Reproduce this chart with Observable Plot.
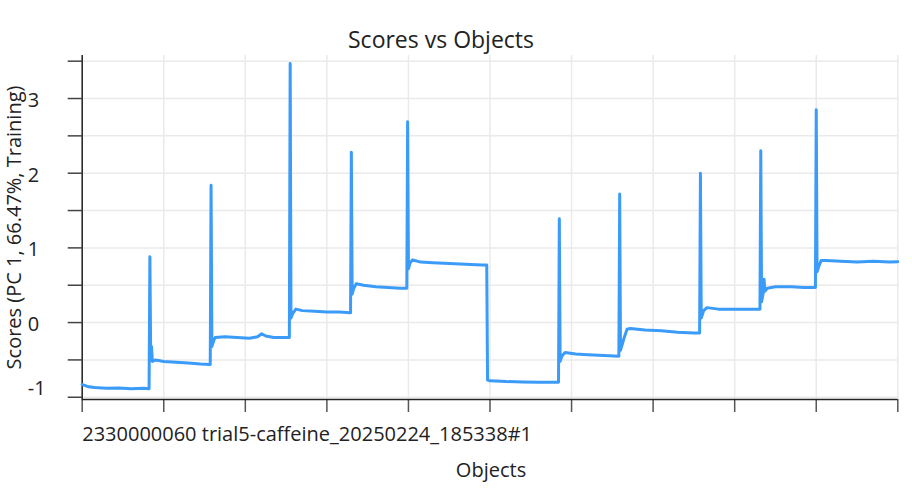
<!DOCTYPE html>
<html>
<head>
<meta charset="utf-8">
<script src="https://cdn.jsdelivr.net/npm/d3@7"></script>
<script src="https://cdn.jsdelivr.net/npm/@observablehq/plot@0.6"></script>
<style>
  html, body { margin: 0; padding: 0; background: #fff; }
</style>
</head>
<body>
<div id="chart"></div>
<script>
const titleText = "Scores vs Objects";
const xLabelText = "Objects";
const yLabelText = "Scores (PC 1, 66.47%, Training)";
const objectName = "2330000060 trial5-caffeine_20250224_185338#1";

const xTicks = [0, 100, 200, 300, 400, 500, 600, 700, 800, 900, 1000];
const yTicks = [-1, -0.5, 0, 0.5, 1, 1.5, 2, 2.5, 3, 3.5];
const yTickLabels = [0, 1, 2, 3];
const yTickLabelsLow = [-1];

const objectIndex = [
  0, 3, 8, 15, 30, 45, 60, 75, 82,
  83,
  84, 85, 86, 90, 100, 115, 130, 145, 157,
  158,
  159, 161, 163, 175, 190, 205, 215, 220, 225, 235, 245, 254,
  255,
  256, 258, 262, 270, 285, 300, 315, 329,
  330,
  331, 333, 336, 345, 360, 375, 390, 398,
  399,
  400, 402, 405, 415, 430, 450, 470, 490, 496,
  497, 500, 520, 540, 560, 584,
  585,
  586, 588, 592, 605, 620, 640, 658,
  659,
  660, 664, 668, 672, 690, 710, 730, 750, 757,
  758,
  759, 762, 766, 780, 800, 815, 831,
  832,
  833, 835, 836, 837, 840, 850, 870, 885, 899,
  900,
  901, 903, 906, 912, 930, 950, 970, 990, 1000
];
const score = [
  -0.83, -0.84, -0.86, -0.87, -0.88, -0.875, -0.885, -0.88, -0.885,
  0.88,
  -0.5, -0.32, -0.52, -0.5, -0.52, -0.53, -0.54, -0.555, -0.56,
  1.84,
  -0.32, -0.25, -0.2, -0.19, -0.2, -0.21, -0.19, -0.15, -0.18, -0.2, -0.2, -0.2,
  3.47,
  0.06, 0.12, 0.18, 0.16, 0.15, 0.14, 0.14, 0.13,
  2.28,
  0.38, 0.46, 0.52, 0.5, 0.48, 0.47, 0.46, 0.46,
  2.69,
  0.72, 0.8, 0.84, 0.81, 0.8, 0.79, 0.78, 0.77, 0.77,
  -0.77, -0.78, -0.79, -0.795, -0.8, -0.8,
  1.39,
  -0.52, -0.45, -0.4, -0.42, -0.43, -0.44, -0.45,
  1.72,
  -0.37, -0.22, -0.09, -0.08, -0.1, -0.11, -0.13, -0.14, -0.14,
  2.0,
  0.06, 0.16, 0.2, 0.18, 0.18, 0.18, 0.18,
  2.30,
  0.28, 0.4, 0.58, 0.42, 0.46, 0.48, 0.48, 0.47, 0.47,
  2.85,
  0.68, 0.75, 0.83, 0.83, 0.82, 0.81, 0.82, 0.81, 0.815
];

const data = objectIndex.map((x, i) => ({x, y: score[i]}));
const font = "'Open Sans', 'Noto Sans', sans-serif";
const lineColor = "#3a9bf8";

const chart = Plot.plot({
  width: 912,
  height: 488,
  marginLeft: 81.7,
  marginRight: 14.7,
  marginTop: 55,
  marginBottom: 89,
  style: {fontFamily: font, fontSize: "20px", color: "#222", background: "#fff"},
  x: {domain: [0, 1000], axis: null},
  y: {domain: [-1.03, 3.576], axis: null},
  marks: [
    Plot.gridX(xTicks, {stroke: "#eaeaea", strokeOpacity: 1, strokeWidth: 1.5}),
    Plot.gridY(yTicks, {stroke: "#eaeaea", strokeOpacity: 1, strokeWidth: 1.5}),
    Plot.axisX(xTicks, {tickSize: 13, tickFormat: () => "", label: null, stroke: "#555", strokeWidth: 1.5}),
    Plot.axisY(yTicks, {tickSize: 14, tickFormat: () => "", label: null, stroke: "#444", strokeWidth: 1.5}),
    Plot.ruleY([-1.03], {stroke: "#222", strokeWidth: 1.5}),
    Plot.ruleX([0], {stroke: "#222", strokeWidth: 1.5}),
    Plot.line(data, {x: "x", y: "y", stroke: lineColor, strokeWidth: 3}),
    Plot.text(yTickLabels, {y: d => d, text: d => String(d), frameAnchor: "left", dx: -54.5, dy: 2, textAnchor: "start", fontSize: 20, fill: "#222"}),
    Plot.text(yTickLabelsLow, {y: d => d, text: d => String(d), frameAnchor: "left", dx: -54.5, dy: -9, textAnchor: "start", fontSize: 20, fill: "#222"}),
    Plot.text([titleText], {text: d => d, frameAnchor: "top", dx: -49, dy: -15, lineAnchor: "middle", textAnchor: "middle", fontSize: 23, fill: "#222"}),
    Plot.text([xLabelText], {text: d => d, frameAnchor: "bottom", dx: 1, dy: 71, lineAnchor: "middle", textAnchor: "middle", fontSize: 20, fill: "#222"}),
    Plot.text([objectName], {text: d => d, frameAnchor: "bottom-left", dy: 35, lineAnchor: "middle", textAnchor: "start", fontSize: 20, fill: "#222"}),
    Plot.text([yLabelText], {text: d => d, frameAnchor: "left", dx: -68, rotate: -90, lineAnchor: "middle", textAnchor: "middle", fontSize: 20, fill: "#222"})
  ]
});
document.getElementById("chart").appendChild(chart);
</script>
</body>
</html>
